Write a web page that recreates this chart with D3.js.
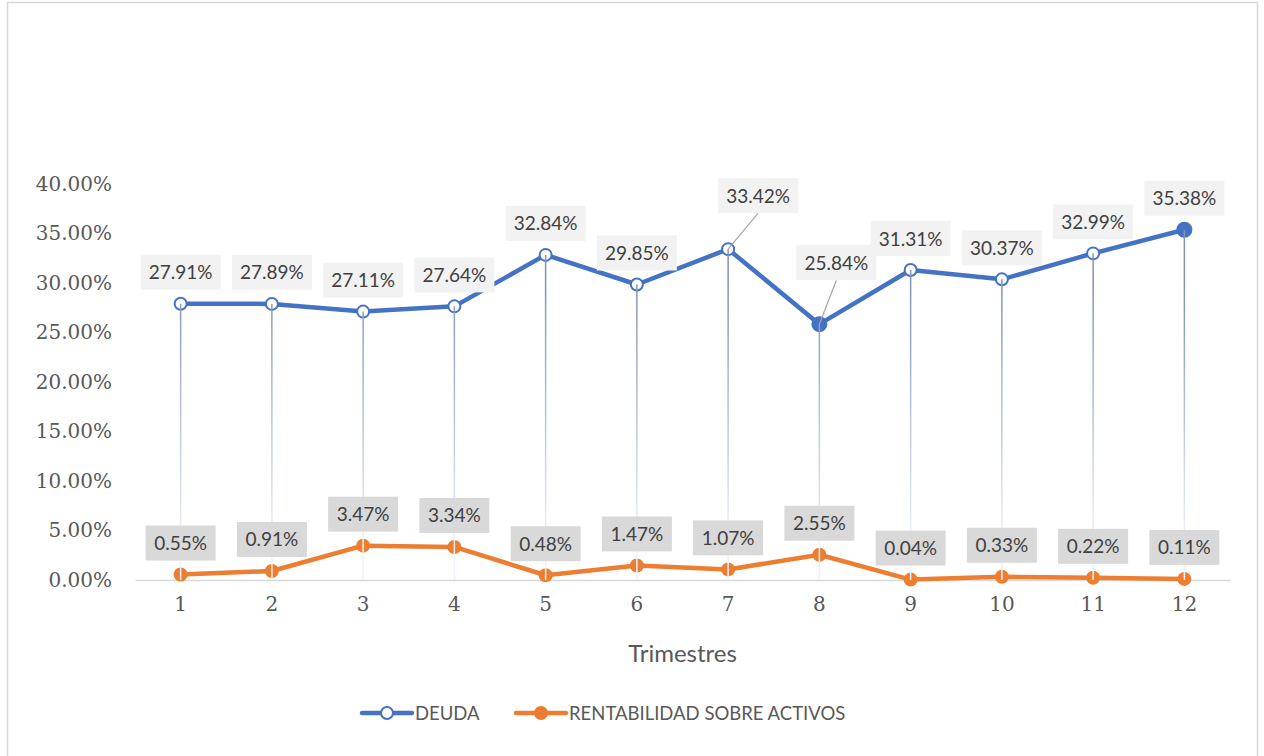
<!DOCTYPE html>
<html>
<head>
<meta charset="utf-8">
<script src="https://cdn.jsdelivr.net/npm/d3@7"></script>
<style>
  body { margin: 0; background: #fff; }
  svg { display: block; }
</style>
</head>
<body>
<div id="chart"></div>
<script>
const trimestres = [1, 2, 3, 4, 5, 6, 7, 8, 9, 10, 11, 12];
const deuda = [27.91, 27.89, 27.11, 27.64, 32.84, 29.85, 33.42, 25.84, 31.31, 30.37, 32.99, 35.38];
const rentabilidad = [0.55, 0.91, 3.47, 3.34, 0.48, 1.47, 1.07, 2.55, 0.04, 0.33, 0.22, 0.11];
const yTicks = [0, 5, 10, 15, 20, 25, 30, 35, 40];
const seriesNames = ["DEUDA", "RENTABILIDAD SOBRE ACTIVOS"];

const width = 1264, height = 756;
const margin = { top: 184, right: 34, bottom: 176, left: 135 };
const blue = "#4472c4", orange = "#ed7d31";

const svg = d3.select("#chart").append("svg")
  .attr("width", width).attr("height", height);

// outer chart border
svg.append("rect")
  .attr("x", 7.5).attr("y", 2.5)
  .attr("width", 1250).attr("height", 780)
  .attr("fill", "none").attr("stroke", "#d9d9d9").attr("stroke-width", 1.5);

const x = d3.scaleBand()
  .domain(trimestres)
  .range([margin.left, width - margin.right]);

const y = d3.scaleLinear()
  .domain([0, 40])
  .range([height - margin.bottom, margin.top]);

const cx = d => x(d) + x.bandwidth() / 2;

// gradient for drop lines
const defs = svg.append("defs");
const grad = defs.append("linearGradient")
  .attr("id", "dropGrad")
  .attr("gradientUnits", "userSpaceOnUse")
  .attr("x1", 0).attr("x2", 0)
  .attr("y1", y(30)).attr("y2", y(4));
grad.append("stop").attr("offset", 0).attr("stop-color", "#7f93b5");
grad.append("stop").attr("offset", 1).attr("stop-color", "#eef2fa");

// y axis labels
const yAxis = svg.append("g")
  .attr("transform", `translate(${margin.left - 20},0)`)
  .call(d3.axisLeft(y).tickValues(yTicks).tickSize(0).tickFormat(d => d.toFixed(2) + "%"));
yAxis.select(".domain").remove();
yAxis.selectAll("text")
  .attr("font-family", "DejaVu Serif")
  .attr("font-size", 20)
  .attr("fill", "#595959");

// x axis
const xAxis = svg.append("g")
  .attr("transform", `translate(0,${y(0)})`)
  .call(d3.axisBottom(x).tickSize(0).tickPadding(17));
xAxis.select(".domain").attr("stroke", "#d9d9d9").attr("stroke-width", 1.5);
xAxis.selectAll("text")
  .attr("font-family", "DejaVu Serif")
  .attr("font-size", 20)
  .attr("fill", "#595959");

const labelFont = "Lato, 'Noto Sans', sans-serif";

svg.append("text")
  .attr("x", (margin.left + width - margin.right) / 2)
  .attr("y", 662)
  .attr("text-anchor", "middle")
  .attr("font-family", labelFont)
  .attr("font-size", 24)
  .attr("fill", "#595959")
  .text("Trimestres");

// lines
const line = d3.line().x((d, i) => cx(trimestres[i])).y(d => y(d));

svg.append("path").datum(rentabilidad)
  .attr("d", line).attr("fill", "none")
  .attr("stroke", orange).attr("stroke-width", 4.5).attr("stroke-linejoin", "round");

svg.append("path").datum(deuda)
  .attr("d", line).attr("fill", "none")
  .attr("stroke", blue).attr("stroke-width", 4.5).attr("stroke-linejoin", "round");

// markers
svg.selectAll(".mk-r").data(rentabilidad).enter().append("circle")
  .attr("cx", (d, i) => cx(trimestres[i])).attr("cy", d => y(d))
  .attr("r", 7).attr("fill", orange);

const filledDeuda = [8, 12];
svg.selectAll(".mk-d").data(deuda).enter().append("circle")
  .attr("cx", (d, i) => cx(trimestres[i])).attr("cy", d => y(d))
  .attr("r", (d, i) => filledDeuda.includes(trimestres[i]) ? 7 : 6)
  .attr("fill", (d, i) => filledDeuda.includes(trimestres[i]) ? blue : "#fff")
  .attr("stroke", blue).attr("stroke-width", 2);

// drop lines
svg.selectAll(".drop").data(deuda).enter().append("line")
  .attr("x1", (d, i) => cx(trimestres[i])).attr("x2", (d, i) => cx(trimestres[i]))
  .attr("y1", d => y(d)).attr("y2", y(0))
  .attr("stroke", "url(#dropGrad)").attr("stroke-width", 1.5);

// data labels
function drawLabels(values, bg, nudges) {
  values.forEach((v, i) => {
    const px = cx(trimestres[i]), py = y(v);
    const txt = v.toFixed(2) + "%";
    const w = txt.length === 6 ? 80 : 70, h = 35;
    const n = nudges[trimestres[i]] || { dx: 0, dy: 0 };
    const bx = px - w / 2 + n.dx, by = py - 14 - h + n.dy;
    const g = svg.append("g");
    if (n.dx || n.dy) {
      g.append("line")
        .attr("x1", px).attr("y1", py)
        .attr("x2", bx + w / 2).attr("y2", by + h)
        .attr("stroke", "#a6a6a6").attr("stroke-width", 1.2);
    }
    g.append("rect")
      .attr("x", bx).attr("y", by).attr("width", w).attr("height", h)
      .attr("fill", bg);
    g.append("text")
      .attr("x", bx + w / 2).attr("y", by + h / 2 + 7)
      .attr("text-anchor", "middle")
      .attr("font-family", labelFont)
      .attr("font-size", 19)
      .attr("fill", "#404040")
      .text(txt);
  });
}

drawLabels(deuda, "#f2f2f2", { 7: { dx: 30, dy: -22 }, 8: { dx: 17, dy: -30 } });
drawLabels(rentabilidad, "#d9d9d9", {});

// legend
const legend = svg.append("g").attr("transform", "translate(0,713)");
const legendItems = [
  { name: seriesNames[0], color: blue, x: 362, open: true },
  { name: seriesNames[1], color: orange, x: 516, open: false }
];
legendItems.forEach(it => {
  legend.append("line")
    .attr("x1", it.x).attr("x2", it.x + 50)
    .attr("stroke", it.color).attr("stroke-width", 4.5).attr("stroke-linecap", "round");
  legend.append("circle")
    .attr("cx", it.x + 25).attr("r", 6)
    .attr("fill", it.open ? "#fff" : it.color)
    .attr("stroke", it.color).attr("stroke-width", 2);
  legend.append("text")
    .attr("x", it.x + 53).attr("y", 7)
    .attr("font-family", labelFont)
    .attr("font-size", 18.5)
    .attr("fill", "#595959")
    .text(it.name);
});
</script>
</body>
</html>
